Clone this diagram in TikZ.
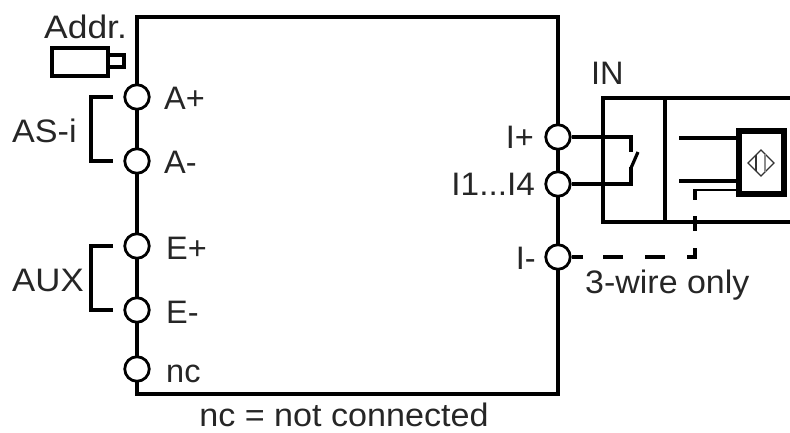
\documentclass[tikz,border=0pt]{standalone}
\usepackage{fontspec}
\setmainfont{Liberation Sans}
\tikzset{
  terminal/.style={circle,draw=black,line width=2.8pt,fill=white,minimum size=24.5pt,inner sep=0pt},
  lbl/.style={inner sep=0pt,text=black!85,font=\fontsize{32.5}{36}\selectfont},
  wire/.style={line width=3.2pt},
  thick wire/.style={line width=4.4pt},
  frame/.style={line width=3.8pt,line cap=butt},
}
\begin{document}
\begin{tikzpicture}[x=1pt,y=-1pt]
\useasboundingbox (0,0) rectangle (790,432);
\coordinate (tl) at (137,17);\coordinate (tr) at (558,17);
\coordinate (bl) at (137,394);\coordinate (br) at (558,394);
\draw[frame,line join=miter] (tr |- 0,137) -- (tr) -- (tl) -- (bl) -- (br) -- (tr |- 0,137);
\node[terminal] (ap) at (137,97) {};
\node[terminal] (am) at (137,161) {};
\node[terminal] (ep) at (137,246) {};
\node[terminal] (em) at (137,310) {};
\node[terminal] (nc) at (137,369) {};
\node[terminal] (ip) at (558,137) {};
\node[terminal] (ii) at (558,184) {};
\node[terminal] (im) at (558,257) {};
% labels
\node[lbl,anchor=base west] (tap) at (164,109) {A+};
\node[lbl,anchor=base west] (tam) at (164,173) {A-};
\node[lbl,anchor=base west] (tep) at (166,259) {E+};
\node[lbl,anchor=base west] (tem) at (166,323) {E-};
\node[lbl,anchor=base west] (tnc) at (166,382) {nc};
\node[lbl,anchor=base east] (tip) at (534,148) {I+};
\node[lbl,anchor=base east,xscale=1.025] (tii) at (535,195) {I1...I4};
\node[lbl,anchor=base east] (tim) at (536,269) {I-};
\node[lbl,anchor=base west,xscale=1.05] (tasi) at (12,142) {AS-i};
\node[lbl,anchor=base west,xscale=1.07] (taux) at (12,291) {AUX};
\node[lbl,anchor=base west,xscale=1.09] (taddr) at (44,38) {Addr.};
\node[lbl,anchor=base west] (tin) at (591,84) {IN};
\node[lbl,anchor=base west,xscale=1.045] (t3w) at (585,293) {3-wire only};
\node[lbl,anchor=base,xscale=1.05] (tnote) at (344,426) {nc = not connected};
% brackets
\draw[line width=3.6pt] (113,97) -| (91,161) -- (113,161);
\draw[line width=3.6pt] (113,246) -| (91,310) -- (113,310);
% addr plug
\draw[line width=3.6pt] (52,48) rectangle (108,76);
\draw[line width=3.6pt] (108,55) rectangle (124,67);
% sensor housing
\draw[line width=3.6pt] (790,222) -- (603,222) -- (603,98);
\draw[line width=4.8pt] (601.2,98) -- (790,98);
\draw[line width=4pt] (665,98) -- (665,222);
% inner box
\draw[line width=5.5pt] (739,131) rectangle (784,194);
\draw[line width=1.2pt,draw=black!80] (761,150) -- (774,163) -- (761,176) -- (748,163) -- cycle;
\draw[line width=1.2pt,draw=black!80] (756,155) -- (756,171);
\draw[line width=1.2pt,draw=black!45] (765,154) -- (765,172);
\draw[line width=3.4pt] (679,138) -- (737,138);
\draw[line width=3.4pt] (679,181) -- (737,181);
% switch
\draw[thick wire] (ip) -- (631,137) -- (631,152);
\draw[wire] (ii) -- (631,184) -- (631,167);
\draw[wire] (631,168) -- (638,152);
% dashed
\draw[line width=2.6pt] (737,190) -- (695,190);
\draw[wire] (695,189) -- (695,200);
\draw[line width=4pt] (695,216) -- (695,231);
\draw[wire] (695,248) -- (695,257) -- (687,257);
\draw[wire] (665,257) -- (645,257);
\draw[wire] (623,257) -- (603,257);
\draw[wire] (583,257) -- (im);
\end{tikzpicture}
\end{document}
